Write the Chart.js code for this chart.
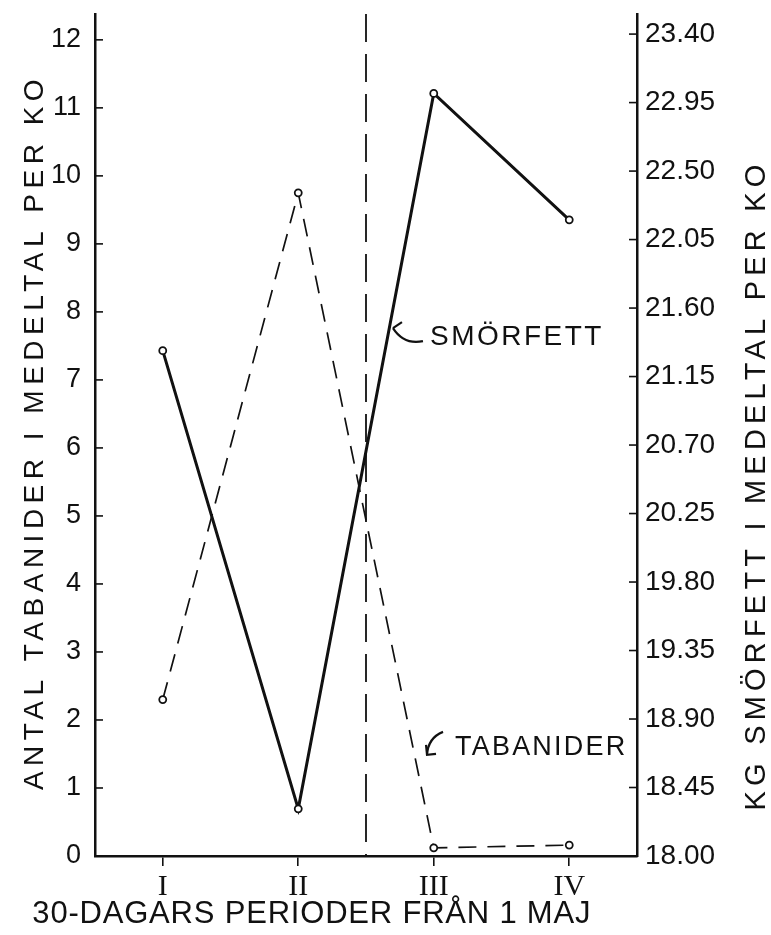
<!DOCTYPE html>
<html><head><meta charset="utf-8">
<script src="https://cdn.jsdelivr.net/npm/chart.js@4/dist/chart.umd.min.js"></script>
<style>html,body{margin:0;padding:0;background:#fff}#wrap{width:771px;height:935px}</style>
</head><body><div id="wrap"><canvas id="c" width="771" height="935"></canvas></div>
<script>
const periods = ['I', 'II', 'III', 'IV'];
const tabanider = [2.3, 9.75, 0.12, 0.16];
const smorfett = [21.32, 18.31, 23.01, 22.18];
const leftTicks = [0, 1, 2, 3, 4, 5, 6, 7, 8, 9, 10, 11, 12];
const rightTicks = [18.00, 18.45, 18.90, 19.35, 19.80, 20.25, 20.70, 21.15, 21.60, 22.05, 22.50, 22.95, 23.40];
const leftTitle = 'ANTAL TABANIDER I MEDELTAL PER KO';
const rightTitle = 'KG SMÖRFETT I MEDELTAL PER KO';
const xTitle = '30-DAGARS PERIODER FRÅN 1 MAJ';
const labelSmorfett = 'SMÖRFETT';
const labelTabanider = 'TABANIDER';

const FONT = '"Liberation Sans", Arial, sans-serif';

const extras = {
  id: 'extras',
  afterDraw(chart) {
    const ctx = chart.ctx;
    const xs = chart.scales.x, yl = chart.scales.y, yr = chart.scales.y2;
    const ca = chart.chartArea;
    ctx.save();
    ctx.strokeStyle = '#111';
    ctx.fillStyle = '#111';
    // divider between II and III
    const dx = xs.getPixelForValue(1.5);
    ctx.lineWidth = 1.8;
    ctx.setLineDash([28, 12]);
    ctx.beginPath(); ctx.moveTo(dx, ca.top); ctx.lineTo(dx, ca.bottom); ctx.stroke();
    ctx.setLineDash([]);
    // inward ticks
    ctx.lineWidth = 1.6;
    yl.ticks.forEach(t => { const p = yl.getPixelForValue(t.value); ctx.beginPath(); ctx.moveTo(ca.left, p); ctx.lineTo(ca.left + 8, p); ctx.stroke(); });
    yr.ticks.forEach(t => { const p = yr.getPixelForValue(t.value); ctx.beginPath(); ctx.moveTo(ca.right, p); ctx.lineTo(ca.right - 8, p); ctx.stroke(); });
    // titles
    ctx.textAlign = 'center'; ctx.textBaseline = 'middle';
    ctx.font = '28px ' + FONT;
    ctx.letterSpacing = '5.5px';
    ctx.save(); ctx.translate(35, 432); ctx.rotate(-Math.PI / 2); ctx.fillText(leftTitle, 0, 0); ctx.restore();
    ctx.font = '29px ' + FONT;
    ctx.letterSpacing = '5.2px';
    ctx.save(); ctx.translate(757, 485); ctx.rotate(-Math.PI / 2); ctx.fillText(rightTitle, 0, 0); ctx.restore();
    ctx.font = '31px ' + FONT;
    ctx.letterSpacing = '0.8px';
    ctx.fillText(xTitle, xs.getPixelForValue(1.1), 914);
    // annotations
    ctx.textAlign = 'left';
    ctx.font = '28px ' + FONT;
    ctx.letterSpacing = '2.5px';
    let ax = xs.getPixelForValue(1.972), ay = yl.getPixelForValue(7.63);
    ctx.fillText(labelSmorfett, ax, ay);
    ctx.lineWidth = 2.2;
    ctx.beginPath(); ctx.moveTo(ax - 37, ay - 9); ctx.lineTo(ax - 28, ay - 15); ctx.stroke();
    ctx.beginPath(); ctx.moveTo(ax - 37, ay - 9); ctx.quadraticCurveTo(ax - 26, ay + 8, ax - 7, ay + 4); ctx.stroke();
    ctx.font = '27px ' + FONT;
    ctx.letterSpacing = '2.2px';
    ax = xs.getPixelForValue(2.157); ay = yl.getPixelForValue(1.59);
    ctx.fillText(labelTabanider, ax, ay);
    ctx.beginPath(); ctx.moveTo(ax - 28, ay + 7); ctx.quadraticCurveTo(ax - 27, ay - 10, ax - 12, ay - 16); ctx.stroke();
    ctx.beginPath(); ctx.moveTo(ax - 29, ay - 3); ctx.lineTo(ax - 28, ay + 7); ctx.lineTo(ax - 19, ay + 6); ctx.stroke();
    ctx.restore();
  }
};

function noPad(s) { s.paddingTop = 0; s.paddingBottom = 0; s.paddingLeft = 0; s.paddingRight = 0; }

new Chart(document.getElementById('c'), {
  type: 'line',
  data: {
    labels: periods,
    datasets: [
      { label: labelTabanider, data: tabanider, yAxisID: 'y', borderColor: '#111', borderWidth: 1.7, borderDash: [18, 11],
        pointRadius: 3.5, pointBackgroundColor: '#fff', pointBorderColor: '#111', pointBorderWidth: 1.8, tension: 0 },
      { label: labelSmorfett, data: smorfett, yAxisID: 'y2', borderColor: '#111', borderWidth: 3,
        pointRadius: 3.5, pointBackgroundColor: '#fff', pointBorderColor: '#111', pointBorderWidth: 1.8, tension: 0 }
    ]
  },
  options: {
    responsive: false,
    devicePixelRatio: 1,
    animation: false,
    layout: { padding: { top: 14, left: 0, right: 0, bottom: 0 } },
    plugins: { legend: { display: false }, tooltip: { enabled: false } },
    scales: {
      x: {
        type: 'category', offset: true,
        grid: { display: true, offset: false, drawOnChartArea: false, drawTicks: true, tickLength: 10, color: '#111', lineWidth: 1.6 },
        border: { display: true, color: '#111', width: 2.5 },
        ticks: { color: '#111', font: { family: '"Liberation Serif", "DejaVu Serif", serif', size: 30 }, padding: 3, maxRotation: 0 },
        afterFit(s) { s.height = 79; noPad(s); }
      },
      y: {
        position: 'left', min: 0, max: 12.38,
        afterBuildTicks(s) { s.ticks = leftTicks.map(v => ({ value: v })); },
        grid: { display: false },
        border: { display: true, color: '#111', width: 2.5 },
        ticks: { color: '#111', font: { family: FONT, size: 27 }, padding: 6, callback: v => String(v) },
        afterFit(s) { s.width = 95; noPad(s); }
      },
      y2: {
        position: 'right', min: 18, max: 23.532,
        afterBuildTicks(s) { s.ticks = rightTicks.map(v => ({ value: v })); },
        grid: { display: false },
        border: { display: true, color: '#111', width: 2.5 },
        ticks: { color: '#111', font: { family: FONT, size: 28 }, padding: 0, callback: v => Number(v).toFixed(2) },
        afterFit(s) { s.width = 134; noPad(s); }
      }
    }
  },
  plugins: [extras]
});
</script>
</body></html>
